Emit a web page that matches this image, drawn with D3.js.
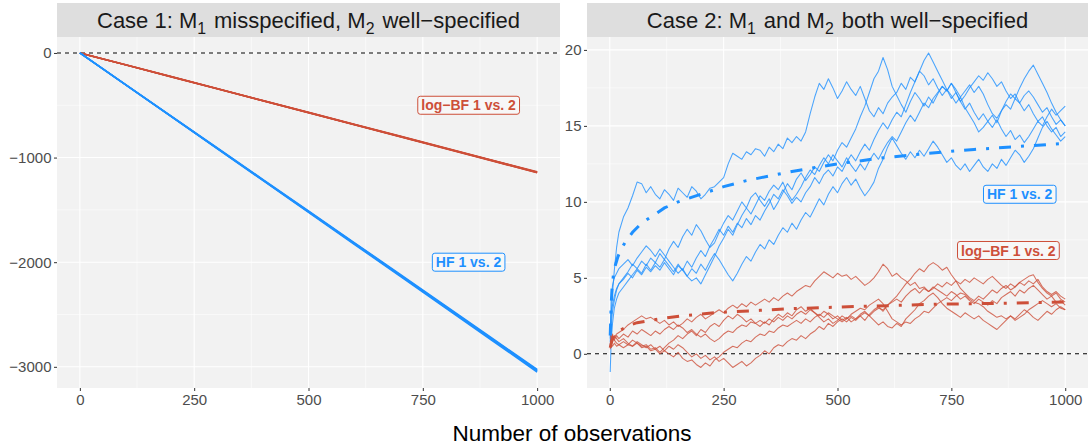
<!DOCTYPE html>
<html>
<head>
<meta charset="utf-8">
<script src="https://cdn.jsdelivr.net/npm/d3@7"></script>
<style>
  body { margin: 0; background: #fff; }
  svg { display: block; font-family: "Liberation Sans", Arial, sans-serif; }
</style>
</head>
<body>
<div id="chart"></div>
<script>
// ---- Case 1: straight-ish cumulative curves
const case1X = [0, 100, 200, 300, 400, 500, 600, 700, 800, 900, 1000]
const case1BF = [
  [0, -113, -227, -341, -455, -569, -683, -797, -911, -1026, -1140],
  [0, -114, -228, -342, -457, -571, -685, -799, -913, -1028, -1143],
  [0, -113, -226, -340, -454, -567, -681, -794, -908, -1022, -1136],
  [0, -114, -229, -343, -457, -572, -686, -800, -915, -1030, -1145],
  [0, -114, -227, -341, -456, -570, -684, -798, -912, -1026, -1139],
]
const case1HF = [
  [0, -302, -604, -906, -1208, -1510, -1812, -2114, -2418, -2722, -3025],
  [0, -304, -608, -911, -1215, -1519, -1823, -2127, -2432, -2736, -3040],
  [0, -303, -606, -909, -1212, -1514, -1817, -2120, -2424, -2728, -3032],
  [0, -305, -609, -914, -1219, -1524, -1829, -2134, -2439, -2744, -3050],
  [0, -303, -607, -910, -1213, -1516, -1820, -2124, -2428, -2733, -3037],
]

// ---- Case 2: noisy paths, read at n = 1,3,6,10,15,20 then every 10
const case2X = [1, 3, 6, 10, 15, 20].concat(d3.range(30, 1001, 10))
const case2HF = [
  [1.0, 2.5, 4.0, 5.5, 7.0, 8.0,
   9.0, 9.6, 10.4, 11.3, 11.2, 10.6, 11.0, 10.5, 10.2, 10.8,
   10.5, 10.1, 10.9, 10.6, 10.3, 11.0, 10.7, 10.2, 10.5, 10.9,
   11.0, 11.3, 11.6, 12.5, 13.2, 13.0, 12.8, 13.3, 13.1, 13.5,
   13.4, 13.0, 13.6, 13.3, 13.8, 13.5, 14.2, 13.9, 14.3, 14.0,
   14.6, 15.8, 16.9, 17.8, 17.4, 18.1, 17.5, 16.8, 17.3, 17.9,
   17.4, 17.0, 17.6, 16.8, 16.0, 15.6, 16.2, 15.8, 16.5, 16.9,
   17.2, 17.8, 17.4, 18.2, 17.9, 18.6, 18.3, 17.7, 18.1, 17.5,
   17.0, 17.4, 16.8, 17.2, 16.6, 17.0, 17.5, 17.9, 18.3, 18.0,
   18.5, 18.1, 17.6, 17.9, 17.3, 16.8, 17.1, 16.5, 16.0, 16.4,
   15.8, 15.3, 15.6, 15.0, 14.6, 14.9, 14.3, 14.6],
  [0.5, 1.8, 2.8, 3.5, 4.2, 4.6,
   5.0, 5.4, 5.9, 5.6, 6.1, 5.8, 6.3, 6.0, 6.6, 6.2,
   6.9, 7.4, 7.0, 7.7, 8.2, 7.8, 8.5, 8.1, 7.5, 7.0,
   7.3, 8.0, 8.6, 9.1, 8.8, 9.4, 10.0, 9.6, 10.3, 10.6,
   10.1, 9.7, 10.2, 9.5, 10.0, 10.6, 11.2, 10.8, 11.5, 11.9,
   11.4, 11.8, 12.3, 12.0, 12.6, 13.1, 12.7, 13.4, 13.9, 13.6,
   14.2, 14.8, 15.6, 16.3, 17.2, 18.1, 18.6, 19.5, 18.7, 17.6,
   17.0, 16.4, 15.9, 16.6, 17.2, 16.8, 16.3, 16.9, 16.5, 17.1,
   17.6, 17.3, 17.8, 17.2, 16.6, 16.1, 16.5, 15.9, 15.4, 15.8,
   15.3, 15.7, 15.2, 16.0, 16.4, 16.1, 16.8, 16.5, 17.0, 17.3,
   16.9, 16.4, 15.9, 16.2, 15.6, 15.1, 15.4, 15.0],
  [-1.2, 0.8, 2.0, 3.0, 3.6, 4.0,
   4.4, 4.8, 5.2, 5.6, 5.3, 5.9, 5.5, 6.0, 5.7, 6.2,
   5.8, 5.4, 5.9, 5.5, 6.1, 5.7, 6.3, 6.8, 6.4, 7.1,
   7.6, 8.2, 7.8, 8.4, 8.0, 8.6, 8.3, 8.9, 8.5, 9.1,
   8.8, 9.4, 9.9, 10.5, 10.2, 10.8, 10.4, 9.9, 10.3, 10.0,
   10.6, 11.0, 11.6, 11.2, 11.8, 12.1, 11.7, 12.3, 12.0, 12.6,
   13.1, 12.7, 13.3, 13.8, 13.4, 14.1, 14.7, 15.2, 14.8, 15.4,
   15.9, 15.6, 16.4, 17.2, 17.9, 18.6, 19.3, 19.8, 19.2, 18.6,
   18.0, 17.4, 17.0, 16.5, 16.9, 16.2, 15.7, 15.2, 14.6, 14.9,
   15.3, 14.9, 15.4, 14.8, 14.3, 14.7, 14.1, 14.4, 13.9, 14.3,
   14.8, 15.3, 15.0, 15.6, 16.1, 15.7, 16.0, 16.3],
  [1.5, 2.6, 3.2, 3.8, 4.3, 4.6,
   4.9, 5.3, 5.0, 5.5, 5.2, 5.7, 5.4, 5.8, 5.5, 6.0,
   5.6, 5.2, 5.8, 5.5, 5.1, 5.6, 5.3, 5.9, 5.5, 6.1,
   6.6, 6.2, 5.7, 5.2, 4.8, 5.3, 5.9, 6.4, 6.1, 6.7,
   7.2, 6.9, 7.5, 7.2, 7.8, 8.3, 8.0, 8.6, 8.2, 8.8,
   9.3, 9.0, 9.6, 10.2, 9.8, 10.5, 11.0, 10.6, 11.2, 11.6,
   11.1, 11.5, 10.9, 10.4, 10.8, 11.3, 12.2, 12.8, 13.6, 14.2,
   13.7, 13.2, 12.8, 13.3, 12.9, 13.4, 13.0, 13.5, 14.0, 13.6,
   13.1, 12.6, 12.9, 12.4, 12.1, 12.5, 12.0, 12.4, 12.8, 12.3,
   12.0, 12.5, 12.2, 12.8, 12.4, 12.9, 13.4, 13.1, 12.6, 13.0,
   13.5, 14.2, 14.9, 15.3, 14.8, 14.4, 14.0, 14.3],
  [0.8, 3.5, 4.5, 5.0, 5.3, 5.6,
   5.9, 6.2, 5.8, 6.3, 6.7, 7.1, 6.8, 6.4, 6.9, 6.5,
   6.1, 5.7, 5.3, 5.6, 5.1, 4.8, 5.0, 4.6, 5.2, 5.8,
   6.4, 7.1, 7.6, 8.2, 7.8, 8.5, 9.1, 9.6, 9.2, 9.8,
   10.4, 10.1, 10.7, 11.1, 10.8, 11.3, 10.6, 10.1, 10.5, 11.0,
   11.6, 12.1, 11.8, 12.4, 12.9, 12.5, 13.1, 12.7, 12.3, 12.9,
   12.4, 12.0, 12.5, 12.1, 12.7, 13.2, 12.8, 13.4, 13.9, 14.3,
   14.0, 14.6, 15.2, 15.7, 15.3, 15.9, 16.5, 16.2, 16.8, 17.2,
   17.6, 17.3, 17.8, 17.4, 16.9, 17.3, 17.7, 17.2, 17.6, 17.1,
   16.4, 15.8, 15.5, 16.0, 16.6, 17.1, 16.8, 17.5, 18.1, 18.6,
   19.0, 18.4, 17.8, 17.2, 16.5, 15.9, 15.4, 15.0],
]
const case2BF = [
  [0.3, 0.6, 0.9, 1.1, 1.3, 1.4,
   1.6, 1.9, 2.1, 2.3, 2.5, 2.3, 2.4, 2.2, 2.0, 2.2,
   1.9, 2.1, 1.8, 2.0, 2.3, 2.1, 2.4, 2.6, 2.3, 2.5,
   2.7, 2.9, 2.7, 3.0, 3.2, 3.0, 3.3, 3.1, 3.4, 3.2,
   3.4, 3.6, 3.4, 3.7, 3.5, 3.8, 4.0, 3.8, 4.1, 4.3,
   4.5, 4.4, 4.8, 5.1, 5.4, 5.2, 5.0, 5.3, 5.1, 5.2,
   4.9, 5.1, 4.8, 4.5, 4.7, 5.0, 5.4, 5.9, 5.6, 5.1,
   5.3, 5.0, 4.8, 4.5, 4.7, 4.3, 4.4, 4.1, 4.3, 4.6,
   4.4, 4.7, 4.5, 4.8, 4.6, 4.9, 4.7, 5.0, 4.8, 4.6,
   4.9, 5.1, 4.8, 4.5, 4.3, 4.6, 4.4, 4.7, 4.9, 5.1,
   5.2, 4.7, 4.3, 4.0, 3.8, 4.0, 3.6, 3.4],
  [0.8, 0.6, 0.5, 0.7, 0.5, 0.6,
   0.8, 0.6, 0.9, 0.7, 0.5, 0.6, 0.3, 0.4, 0.1, 0.4,
   0.7, 0.9, 1.2, 1.0, 1.3, 1.5, 1.2, 1.6, 1.4, 1.8,
   2.0, 1.8, 2.2, 2.5, 2.3, 2.6, 2.4, 2.1, 2.3, 2.0,
   1.8, 2.1, 1.9, 2.3, 2.6, 2.4, 2.7, 2.5, 2.9, 3.1,
   2.8, 3.0, 2.7, 2.5, 2.8, 2.6, 2.3, 2.5, 2.2, 2.4,
   2.1, 2.3, 2.5, 2.2, 2.6, 2.9, 3.1, 2.8, 3.2, 3.5,
   3.8, 4.2, 4.6, 4.9, 5.3, 5.6, 5.4, 5.8, 6.0, 5.8,
   5.5, 5.7, 5.2, 4.8, 4.3, 4.0, 3.7, 3.5, 3.8, 3.6,
   3.9, 4.2, 4.0, 4.3, 4.5, 4.2, 4.4, 4.7, 4.5, 4.8,
   4.6, 4.9, 4.4, 4.1, 3.9, 4.1, 3.8, 3.6],
  [0.5, 0.9, 1.2, 0.9, 0.7, 0.6,
   0.4, 0.6, 0.5, 0.7, 0.4, 0.5, 0.2, 0.3, 0.0, 0.2,
   0.5, 0.3, 0.6, 0.4, 0.1, -0.2, 0.0, -0.3, -0.1, -0.4,
   -0.2, -0.5, -0.3, -0.6, -0.9, -0.7, -0.5, -0.8, -0.6, -0.3,
   -0.1, 0.2, 0.0, 0.4, 0.6, 0.5, 0.8, 1.0, 0.9, 1.2,
   1.0, 1.3, 1.5, 1.8, 1.6, 2.0, 1.8, 2.1, 2.3, 2.1,
   2.4, 2.2, 2.5, 2.7, 2.5, 2.8, 3.0, 2.9, 3.2, 3.4,
   3.6, 3.4, 3.8, 4.1, 4.3, 4.0, 4.3, 4.1, 4.4, 4.2,
   4.0, 3.8, 4.1, 3.9, 3.6, 3.8, 3.5, 3.3, 3.6, 3.4,
   3.2, 3.5, 3.3, 3.7, 3.9, 4.1, 3.8, 4.2, 4.0, 4.3,
   4.5, 4.2, 3.9, 3.6, 3.8, 3.4, 3.5, 3.2],
  [0.6, 1.0, 0.8, 1.2, 1.0, 0.8,
   1.0, 0.7, 0.5, 0.8, 0.6, 0.4, 0.6, 0.3, 0.5, 0.2,
   0.0, -0.2, 0.1, -0.3, -0.5, -0.4, -0.7, -0.9, -0.6, -0.8,
   -0.4, -0.2, 0.1, 0.3, 0.5, 0.4, 0.7, 0.9, 0.8, 1.1,
   1.3, 1.2, 1.5, 1.4, 1.7, 1.9, 1.8, 2.0, 2.2, 2.0,
   2.3, 2.1, 2.4, 2.6, 2.4, 2.7, 2.5, 2.3, 2.1, 2.3,
   2.5, 2.3, 2.6, 2.8, 2.5, 2.2, 1.9, 2.1, 1.8, 1.7,
   2.0, 1.8, 2.3, 2.6, 2.9, 3.3, 3.5, 3.8, 4.0, 3.7,
   3.3, 3.0, 2.8, 2.6, 2.4, 2.7, 2.5, 2.3, 2.5, 2.2,
   2.0, 1.8, 1.6, 1.9, 2.2, 2.5, 2.3, 2.6, 2.9, 2.7,
   2.4, 2.2, 2.5, 2.8, 2.6, 2.9, 3.1, 2.9],
  [1.4, 1.0, 1.3, 0.9, 1.2, 1.0,
   1.3, 1.1, 1.5, 1.3, 1.6, 1.4, 1.2, 1.5, 1.3, 1.6,
   1.8, 1.6, 1.9, 1.7, 1.4, 1.6, 1.3, 1.1, 1.3, 1.0,
   0.8, 1.0, 1.3, 1.5, 1.4, 1.7, 1.9, 1.8, 2.1, 2.0,
   2.2, 2.0, 2.3, 2.1, 2.4, 2.2, 2.5, 2.3, 2.6, 2.8,
   2.6, 2.9, 2.7, 2.4, 2.1, 2.3, 2.0, 2.2, 2.5, 2.3,
   2.6, 2.8, 3.0, 2.9, 3.2, 3.4, 3.6, 3.3, 2.8, 2.3,
   2.1, 1.9, 2.1, 2.0, 2.3, 2.5, 2.8, 2.7, 3.0, 3.3,
   3.5, 3.7, 3.5, 3.8, 4.0, 3.9, 3.6, 3.4, 3.3, 3.1,
   2.8, 2.6, 2.4, 2.5, 2.3, 2.5, 2.2, 2.4, 2.6, 2.9,
   3.1, 3.3, 3.5, 3.3, 3.1, 3.3, 3.0, 2.9],
]
// expected curves (dot-dash)
const hfMeanX = [1, 3, 5, 8, 12, 18, 25, 35, 50, 70, 90, 120, 150, 200, 250, 300, 400, 500, 600, 700, 800, 900, 1000]
const hfMean = [1.2, 3.2, 4.3, 5.2, 5.8, 6.4, 6.9, 7.4, 8.0, 8.6, 9.0, 9.6, 10.0, 10.5, 11.0, 11.4, 12.0, 12.5, 12.9, 13.2, 13.45, 13.65, 13.85]
const bfMeanX = [1, 5, 10, 20, 40, 60, 80, 120, 160, 230, 330, 400, 490, 560, 650, 720, 810, 890, 970, 1000]
const bfMean = [0.4, 0.9, 1.2, 1.5, 1.85, 2.05, 2.15, 2.35, 2.5, 2.7, 2.86, 2.97, 3.06, 3.13, 3.2, 3.27, 3.3, 3.34, 3.4, 3.42]

const xTicks = [0, 250, 500, 750, 1000]
const case1YTicks = [0, -1000, -2000, -3000]
const case2YTicks = [0, 5, 10, 15, 20]

const RED = '#cd4f39'
const BLUE = '#1e90ff'
const W = 1088, H = 447
const panelTop = 37, panelBottom = 388

const svg = d3.select('#chart').append('svg')
    .attr('width', W)
    .attr('height', H)

const expand = ([a, b]) => {
    const pad = (b - a) * 0.05
    return [a - pad, b + pad]
}

const minorBreaks = (ticks, domain) => {
    const step = Math.abs(ticks[1] - ticks[0])
    const out = []
    const lo = Math.min(...ticks) - step, hi = Math.max(...ticks) + step
    for (let v = lo + step / 2; v < hi; v += step) {
        if (v > domain[0] && v < domain[1]) out.push(v)
    }
    return out
}

const richText = (sel, parts) => {
    parts.forEach((p) => {
        if (p.sub) {
            sel.append('tspan').attr('dy', 6).attr('font-size', '0.72em').text(p.t)
            sel.append('tspan').attr('dy', -6).text('\u200a')
        } else {
            sel.append('tspan').text(p.t)
        }
    })
}

const drawLabel = (g, x, y, text, color) => {
    const lg = g.append('g').attr('transform', `translate(${x},${y})`)
    const t = lg.append('text')
        .attr('text-anchor', 'middle')
        .attr('dy', '0.36em')
        .attr('font-size', 14)
        .attr('font-weight', 'bold')
        .attr('fill', color)
        .text(text)
    const bb = t.node().getBBox()
    lg.insert('rect', 'text')
        .attr('x', bb.x - 3.5)
        .attr('y', -9)
        .attr('width', bb.width + 7)
        .attr('height', 18)
        .attr('rx', 2.5)
        .attr('fill', '#f7f7f7')
        .attr('stroke', color)
        .attr('stroke-width', 1)
}

const drawPanel = (p) => {
    const allY = p.groups.flatMap((s) => s.values.flat())
    const x = d3.scaleLinear().domain(expand([0, 1000])).range([p.left, p.right])
    const y = d3.scaleLinear().domain(expand(d3.extent(allY))).range([panelBottom, panelTop])
    const g = svg.append('g')

    g.append('rect')
        .attr('x', p.left).attr('y', panelTop)
        .attr('width', p.right - p.left).attr('height', panelBottom - panelTop)
        .attr('fill', '#f2f2f2')

    // grid
    const grid = g.append('g').attr('stroke', '#fff')
    grid.selectAll('.vmin').data(minorBreaks(xTicks, x.domain())).join('line')
        .attr('x1', (d) => x(d)).attr('x2', (d) => x(d))
        .attr('y1', panelTop).attr('y2', panelBottom).attr('stroke-width', 0.55)
    grid.selectAll('.hmin').data(minorBreaks(p.yTicks, y.domain())).join('line')
        .attr('y1', (d) => y(d)).attr('y2', (d) => y(d))
        .attr('x1', p.left).attr('x2', p.right).attr('stroke-width', 0.55)
    grid.selectAll('.vmaj').data(xTicks).join('line')
        .attr('x1', (d) => x(d)).attr('x2', (d) => x(d))
        .attr('y1', panelTop).attr('y2', panelBottom).attr('stroke-width', 1.1)
    grid.selectAll('.hmaj').data(p.yTicks).join('line')
        .attr('y1', (d) => y(d)).attr('y2', (d) => y(d))
        .attr('x1', p.left).attr('x2', p.right).attr('stroke-width', 1.1)

    // axes
    const fmt = d3.format('d')
    const xAxis = g.append('g')
        .attr('transform', `translate(0,${panelBottom})`)
        .call(d3.axisBottom(x).tickValues(xTicks).tickFormat(fmt).tickSize(3).tickPadding(3))
    const yAxis = g.append('g')
        .attr('transform', `translate(${p.left},0)`)
        .call(d3.axisLeft(y).tickValues(p.yTicks).tickFormat(fmt).tickSize(3).tickPadding(2.5))
    ;[xAxis, yAxis].forEach((a) => {
        a.select('.domain').remove()
        a.selectAll('line').attr('stroke', '#333')
        a.selectAll('text').attr('fill', '#4d4d4d').attr('font-size', 15)
            .attr('font-family', '"Liberation Sans", Arial, sans-serif')
    })

    // zero reference
    g.append('line')
        .attr('x1', p.left).attr('x2', p.right)
        .attr('y1', y(0)).attr('y2', y(0))
        .attr('stroke', '#000').attr('stroke-width', 1.1)
        .attr('stroke-dasharray', '4,4')

    const line = d3.line().x((d) => x(d[0])).y((d) => y(d[1]))
    p.groups.forEach((s) => {
        g.append('g').selectAll('path').data(s.values).join('path')
            .attr('d', (vals) => line(vals.map((v, i) => [s.xs[i], v])))
            .attr('fill', 'none')
            .attr('stroke', s.color)
            .attr('stroke-width', p.lineWidth)
            .attr('stroke-opacity', p.lineOpacity)
            .attr('stroke-linejoin', 'round')
    })

    ;(p.means || []).forEach((m) => {
        g.append('path')
            .attr('d', line(m.values.map((v, i) => [m.xs[i], v])))
            .attr('fill', 'none')
            .attr('stroke', m.color)
            .attr('stroke-width', 3)
            .attr('stroke-dasharray', '12,10,3,10')
    })

    p.labels.forEach((l) => drawLabel(g, x(l.x), y(l.y), l.text, l.color))

    // strip
    g.append('rect')
        .attr('x', p.left).attr('y', 3)
        .attr('width', p.right - p.left).attr('height', panelTop - 3)
        .attr('fill', '#dedede')
    const st = g.append('text')
        .attr('x', (p.left + p.right) / 2).attr('y', 28)
        .attr('text-anchor', 'middle')
        .attr('font-size', 22)
        .attr('fill', '#1a1a1a')
    richText(st, p.strip)
}

drawPanel({
    left: 57, right: 560,
    yTicks: case1YTicks,
    lineWidth: 1.5, lineOpacity: 1,
    groups: [
        { xs: case1X, values: case1BF, color: RED },
        { xs: case1X, values: case1HF, color: BLUE },
    ],
    labels: [
        { x: 850, y: -500, text: 'log\u2212BF 1 vs. 2', color: RED },
        { x: 850, y: -2000, text: 'HF 1 vs. 2', color: BLUE },
    ],
    strip: [{ t: 'Case 1: M' }, { t: '1', sub: true }, { t: ' misspecified, M' }, { t: '2', sub: true }, { t: ' well\u2212specified' }],
})

drawPanel({
    left: 587, right: 1088,
    yTicks: case2YTicks,
    lineWidth: 1.05, lineOpacity: 0.8,
    groups: [
        { xs: case2X, values: case2HF, color: BLUE },
        { xs: case2X, values: case2BF, color: RED },
    ],
    means: [
        { xs: hfMeanX, values: hfMean, color: BLUE },
        { xs: bfMeanX, values: bfMean, color: RED },
    ],
    labels: [
        { x: 900, y: 10.5, text: 'HF 1 vs. 2', color: BLUE },
        { x: 875, y: 6.8, text: 'log\u2212BF 1 vs. 2', color: RED },
    ],
    strip: [{ t: 'Case 2: M' }, { t: '1', sub: true }, { t: ' and M' }, { t: '2', sub: true }, { t: ' both well\u2212specified' }],
})

svg.append('text')
    .attr('x', 572).attr('y', 441)
    .attr('text-anchor', 'middle')
    .attr('font-size', 22.5)
    .attr('fill', '#000')
    .text('Number of observations')
</script>
</body>
</html>
